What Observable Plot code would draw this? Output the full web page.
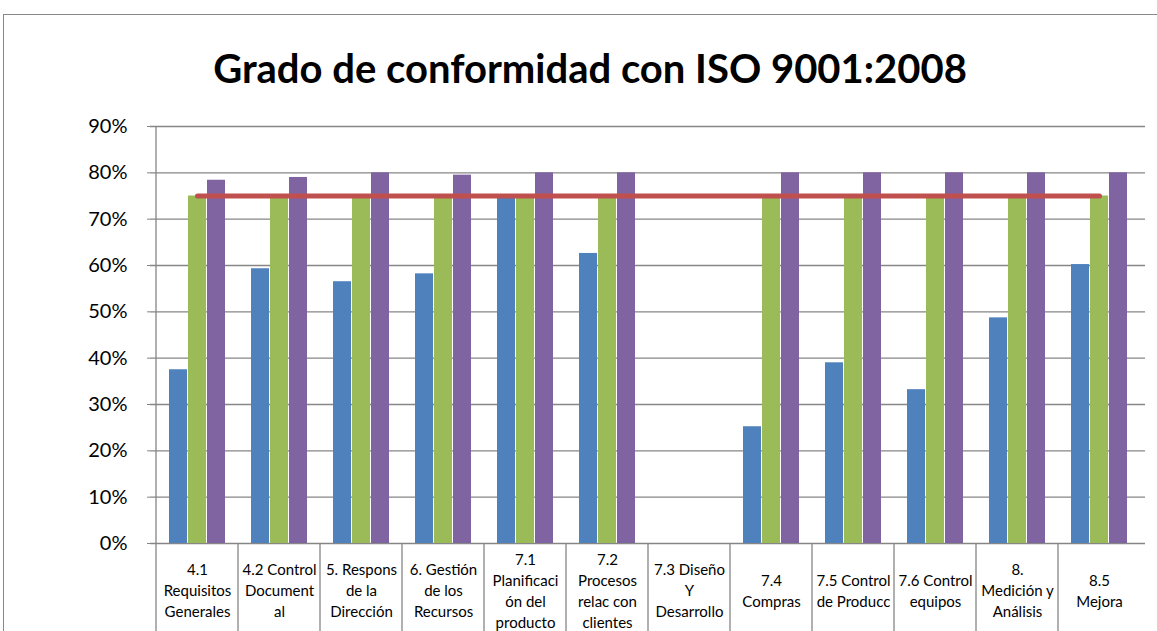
<!DOCTYPE html>
<html>
<head>
<meta charset="utf-8">
<script src="https://cdn.jsdelivr.net/npm/d3@7"></script>
<script src="https://cdn.jsdelivr.net/npm/@observablehq/plot@0.6"></script>
<style>
html, body { margin: 0; padding: 0; background: #fff; width: 1157px; height: 631px; overflow: hidden; color: #000; }
#frame { position: absolute; left: 3px; top: 14px; width: 1170px; height: 640px; border: 1px solid #888; box-sizing: border-box; }
#title { position: absolute; left: 0; top: 40px; width: 1180px; text-align: center; font-family: Lato, sans-serif; font-weight: bold; font-size: 40px; line-height: 56px; color: #000; }
#chart { position: absolute; left: 0; top: 100px; }
</style>
</head>
<body>
<div id="frame"></div>
<div id="title">Grado de conformidad con ISO 9001:2008</div>
<div id="chart"></div>
<script>
const categories = [
  "4.1\nRequisitos\nGenerales",
  "4.2 Control\nDocument\nal",
  "5. Respons\nde la\nDirección",
  "6. Gestión\nde los\nRecursos",
  "7.1\nPlanificaci\nón del\nproducto",
  "7.2\nProcesos\nrelac con\nclientes",
  "7.3 Diseño\nY\nDesarrollo",
  "7.4\nCompras",
  "7.5 Control\nde Producc",
  "7.6 Control\nequipos",
  "8.\nMedición y\nAnálisis",
  "8.5\nMejora"
];
const seriesBlue   = [0.375, 0.593, 0.565, 0.582, 0.75, 0.626, 0, 0.252, 0.39, 0.332, 0.487, 0.602];
const seriesGreen  = [0.75, 0.75, 0.75, 0.75, 0.75, 0.75, 0, 0.75, 0.75, 0.75, 0.75, 0.75];
const seriesPurple = [0.784, 0.79, 0.80, 0.795, 0.80, 0.80, 0, 0.80, 0.80, 0.80, 0.80, 0.80];
const seriesTarget = [0.75, 0.75, 0.75, 0.75, 0.75, 0.75, 0.75, 0.75, 0.75, 0.75, 0.75, 0.75];
const yTicks = [0, 0.1, 0.2, 0.3, 0.4, 0.5, 0.6, 0.7, 0.8, 0.9];

const data = categories.map((c, i) => ({
  cat: c, blue: seriesBlue[i], green: seriesGreen[i], purple: seriesPurple[i], target: seriesTarget[i]
}));

const grid = "#868686";
const chart = Plot.plot({
  width: 1157,
  height: 531,
  marginLeft: 150,
  marginRight: 12,
  marginTop: 26,
  marginBottom: 88,
  style: { fontFamily: "Lato, sans-serif", background: "transparent", color: "#000" },
  x: { domain: categories, padding: 0 },
  y: { domain: [0, 0.9] },
  marks: [
    Plot.gridY(yTicks, { stroke: grid, strokeOpacity: 1, strokeWidth: 1.3 }),
    Plot.barY(data, { x: "cat", y: "blue", fill: "#4F81BD", insetLeft: 13, insetRight: 51 }),
    Plot.barY(data, { x: "cat", y: "green", fill: "#9BBB59", insetLeft: 32, insetRight: 32 }),
    Plot.barY(data, { x: "cat", y: "purple", fill: "#8064A2", insetLeft: 51, insetRight: 13 }),
    Plot.lineY(data, { x: "cat", y: "target", stroke: "#C0504D", strokeWidth: 5 }),
    Plot.ruleX([categories[0]], { dx: -41.5, stroke: grid, strokeWidth: 1.3 }),
    Plot.axisX({ tickSize: 88, tickFormat: () => "", dx: -41.5, stroke: grid, strokeWidth: 1.3, strokeOpacity: 1, label: null }),
    Plot.axisY(yTicks, { tickFormat: d3.format(".0%"), tickSize: 3, tickPadding: 20, fontSize: 20, stroke: grid, strokeOpacity: 1, label: null, fill: "#000" }),
    Plot.text(data, { x: "cat", text: "cat", frameAnchor: "bottom", dy: 46, lineAnchor: "middle", lineHeight: 1.4, fontSize: 15, fill: "#000" })
  ]
});
document.getElementById("chart").appendChild(chart);
</script>
</body>
</html>
